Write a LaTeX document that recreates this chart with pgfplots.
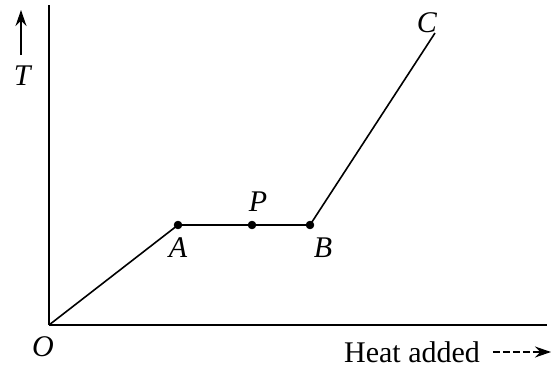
\documentclass[border=0pt]{standalone}
\usepackage{pgfplots}
\pgfplotsset{compat=1.18}
\usetikzlibrary{arrows.meta}
\usepackage{fontspec}
\setmainfont{Liberation Serif}

\begin{document}
\begin{tikzpicture}[font=\fontsize{15}{18}\selectfont]
\begin{axis}[
    x=0.5pt, y=0.5pt,
    xmin=0, xmax=498,
    ymin=0, ymax=320,
    axis lines=left,
    axis line style={-, line width=1.2pt},
    ticks=none,
    clip=false,
]
% heating curve O-A-B-C
\addplot[black, line width=0.8pt] coordinates {
    (0,0) (129,100) (261,100) (386,292)
};
% marked points A, P, B
\addplot[only marks, mark=*, mark size=1.9pt, black] coordinates {
    (129,100) (203,100) (261,100)
};
\node at (axis cs:-6,-22) {\textit{O}};
\node at (axis cs:129,77) {\textit{A}};
\node at (axis cs:209,123) {\textit{P}};
\node at (axis cs:274,77) {\textit{B}};
\node at (axis cs:378,302) {\textit{C}};
\node at (axis cs:-26,249) {\textit{T}};
\draw[-{Stealth[length=8pt,width=5.5pt]}, line width=0.7pt] (axis cs:-28,270) -- (axis cs:-28,315);
\node at (axis cs:363,-27) {Heat added};
\draw[-{Stealth[length=8pt,width=5.5pt]}, dash pattern=on 3.5pt off 1.5pt, line width=0.7pt] (axis cs:444,-27) -- (axis cs:502,-27);
\coordinate (bl) at (axis cs:-49,-41);
\coordinate (tr) at (axis cs:510,325);
\end{axis}
\pgfresetboundingbox
\path[use as bounding box] (bl) rectangle (tr);
\end{tikzpicture}
\end{document}
